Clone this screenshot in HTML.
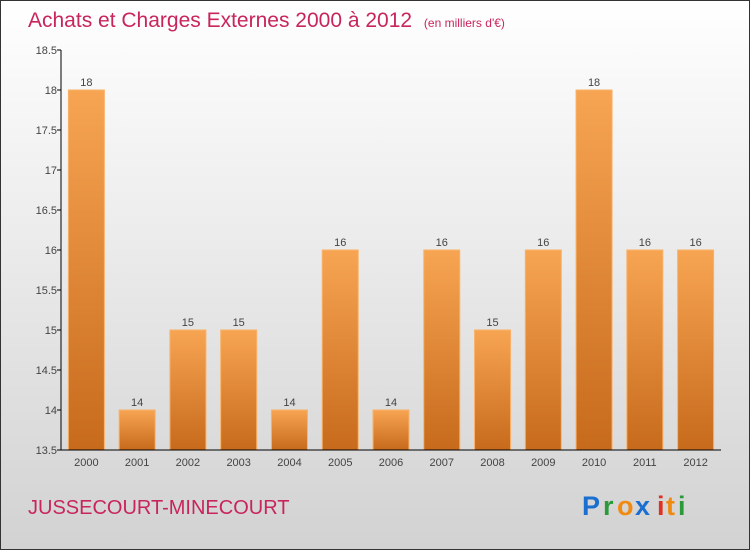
<!DOCTYPE html>
<html><head><meta charset="utf-8"><style>
body{margin:0;width:750px;height:550px;overflow:hidden;font-family:"Liberation Sans",sans-serif}
</style></head><body>
<svg width="750" height="550" xmlns="http://www.w3.org/2000/svg">
<defs>
<linearGradient id="bg" x1="0" y1="0" x2="0" y2="1"><stop offset="0" stop-color="#ffffff"/><stop offset="1" stop-color="#d2d2d2"/></linearGradient>
<linearGradient id="bar" x1="0" y1="0" x2="0" y2="1"><stop offset="0" stop-color="#f7a553"/><stop offset="1" stop-color="#c76a1c"/></linearGradient>
</defs>
<rect x="0.5" y="0.5" width="749" height="549" fill="url(#bg)" stroke="#333"/>
<text x="28" y="27" font-size="21" fill="#c8265a">Achats et Charges Externes 2000 à 2012 <tspan font-size="12" dx="6">(en milliers d'€)</tspan></text>
<g id="plot"></g>
<text x="28" y="514" font-size="20" fill="#c8265a">JUSSECOURT-MINECOURT</text>
<g font-size="27" font-weight="bold">
<text x="582" y="515" fill="#1a6fd0">P</text><text x="603" y="515" fill="#2a9a3a">r</text><text x="617" y="515" fill="#f08a10">o</text><text x="635" y="515" fill="#1a6fd0">x</text><text x="657" y="515" fill="#e03020">i</text><text x="666" y="515" fill="#f08a10">t</text><text x="678" y="515" fill="#2a9a3a">i</text>
</g>
</svg>
<script>
const categories=["2000","2001","2002","2003","2004","2005","2006","2007","2008","2009","2010","2011","2012"];
const values=[18,14,15,15,14,16,14,16,15,16,18,16,16];
const yTicks=[13.5,14,14.5,15,15.5,16,16.5,17,17.5,18,18.5];
const NS="http://www.w3.org/2000/svg";
const g=document.getElementById('plot');
const x0=61,x1=721,yTop=50,yBot=450,ymin=13.5,ymax=18.5;
const y=v=>yBot-(v-ymin)/(ymax-ymin)*(yBot-yTop);
const band=(x1-x0)/categories.length;
function mk(t,a,txt){const e=document.createElementNS(NS,t);for(const k in a)e.setAttribute(k,a[k]);if(txt!==undefined)e.textContent=txt;g.appendChild(e);return e;}
yTicks.forEach(t=>{
 const l=mk('line',{x1:x0-4,x2:x0,y1:y(t),y2:y(t),stroke:'#000'});
 
 
 const tx=mk('text',{x:x0-4,y:y(t)+4,'text-anchor':'end','font-size':11,fill:'#444'},String(t));
 
 
});
categories.forEach((c,i)=>{
 const cx=x0+band*(i+0.5),v=values[i];
 const r=mk('rect',{x:cx-18,y:y(v),width:36,height:yBot-y(v),fill:'url(#bar)',stroke:'#f9b26a','stroke-width':1});
 
 
 const vl=mk('text',{x:cx,y:y(v)-4,'text-anchor':'middle','font-size':11,fill:'#444'},String(v));
 
 
 const xl=mk('text',{x:cx,y:yBot+16,'text-anchor':'middle','font-size':11,fill:'#444'},c);
 
 
});
const ya=mk('line',{x1:x0,x2:x0,y1:yTop,y2:yBot,stroke:'#000'});


const xa=mk('line',{x1:x0,x2:x1,y1:yBot,y2:yBot,stroke:'#000'});


</script>
</body></html>
